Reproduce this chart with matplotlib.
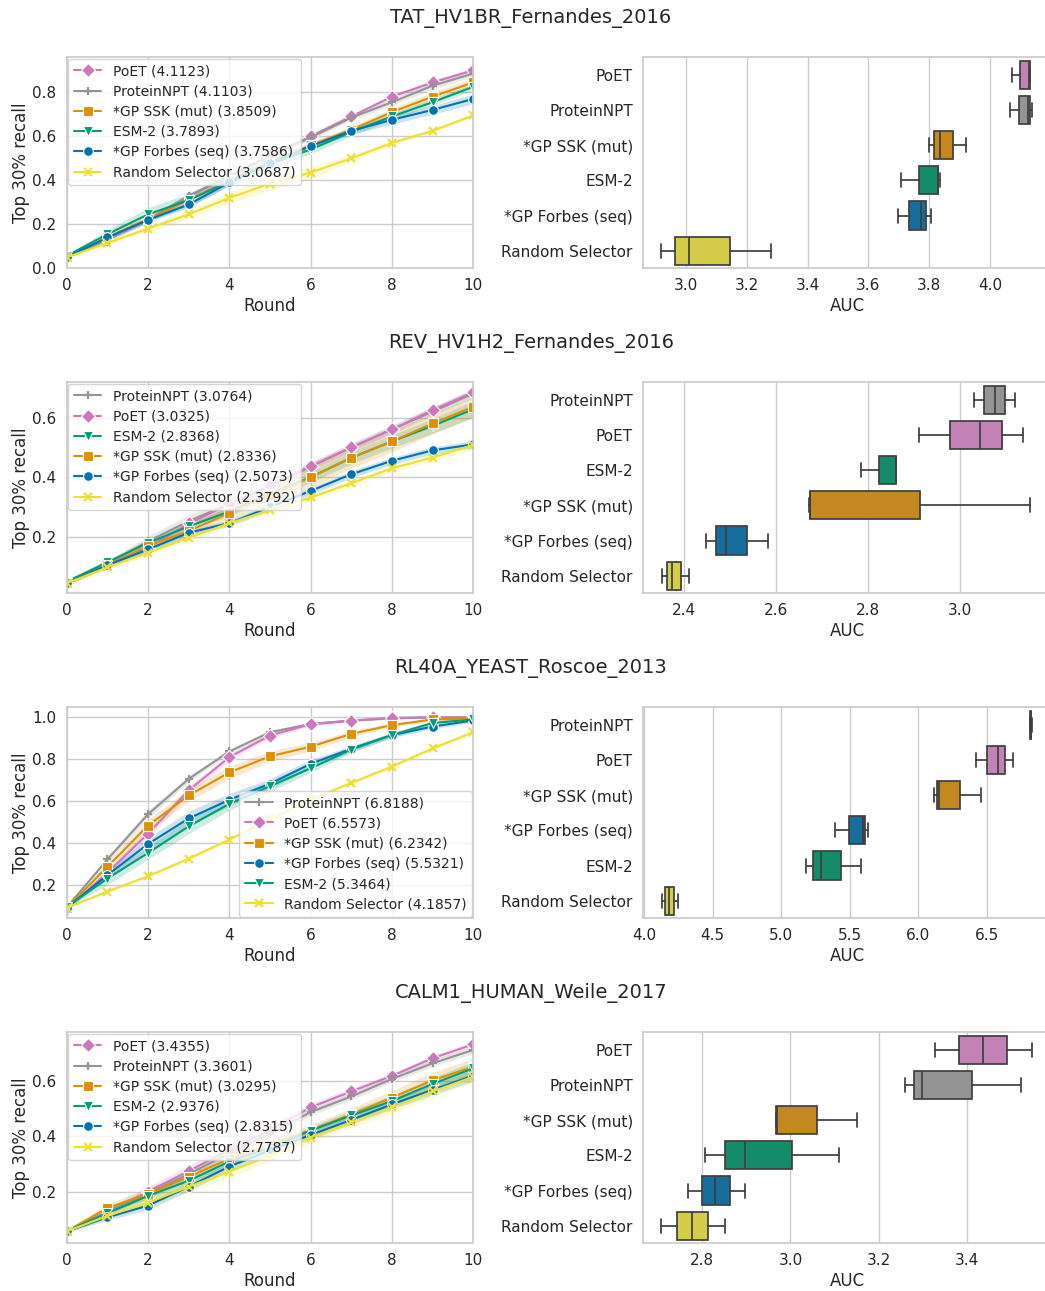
import matplotlib
matplotlib.use("Agg")
import matplotlib.pyplot as plt
import seaborn as sns

ROUNDS = list(range(11))

# ---- TAT_HV1BR_Fernandes_2016 ----
tat_order = ["PoET", "ProteinNPT", "*GP SSK (mut)", "ESM-2", "*GP Forbes (seq)", "Random Selector"]
tat_auc = {"PoET": 4.1123, "ProteinNPT": 4.1103, "*GP SSK (mut)": 3.8509,
           "ESM-2": 3.7893, "*GP Forbes (seq)": 3.7586, "Random Selector": 3.0687}
tat_recall = {
    "PoET": [0.05, 0.13, 0.22, 0.325, 0.42, 0.51, 0.60, 0.69, 0.78, 0.845, 0.90],
    "ProteinNPT": [0.05, 0.13, 0.22, 0.33, 0.42, 0.51, 0.595, 0.685, 0.755, 0.83, 0.885],
    "*GP SSK (mut)": [0.05, 0.14, 0.225, 0.31, 0.40, 0.48, 0.56, 0.63, 0.71, 0.78, 0.845],
    "ESM-2": [0.056, 0.155, 0.245, 0.31, 0.395, 0.475, 0.54, 0.62, 0.69, 0.755, 0.825],
    "*GP Forbes (seq)": [0.05, 0.14, 0.22, 0.29, 0.39, 0.48, 0.555, 0.625, 0.675, 0.72, 0.77],
    "Random Selector": [0.05, 0.115, 0.18, 0.245, 0.32, 0.385, 0.435, 0.50, 0.57, 0.625, 0.695],
}
tat_ci = {
    "PoET": [0.005, 0.01, 0.01, 0.01, 0.01, 0.01, 0.01, 0.01, 0.01, 0.01, 0.012],
    "ProteinNPT": [0.005, 0.01, 0.012, 0.012, 0.012, 0.012, 0.012, 0.012, 0.015, 0.015, 0.015],
    "*GP SSK (mut)": [0.005, 0.01, 0.012, 0.012, 0.015, 0.015, 0.015, 0.015, 0.018, 0.02, 0.02],
    "ESM-2": [0.005, 0.02, 0.03, 0.03, 0.02, 0.02, 0.02, 0.018, 0.015, 0.015, 0.015],
    "*GP Forbes (seq)": [0.005, 0.01, 0.012, 0.012, 0.012, 0.012, 0.012, 0.015, 0.02, 0.02, 0.022],
    "Random Selector": [0.005, 0.01, 0.015, 0.02, 0.025, 0.03, 0.028, 0.015, 0.012, 0.01, 0.01],
}
tat_box = {
    "PoET": [4.074, 4.099, 4.127, 4.131, 4.133],
    "ProteinNPT": [4.066, 4.095, 4.126, 4.132, 4.139],
    "*GP SSK (mut)": [3.798, 3.817, 3.836, 3.877, 3.920],
    "ESM-2": [3.708, 3.767, 3.828, 3.830, 3.834],
    "*GP Forbes (seq)": [3.697, 3.735, 3.774, 3.790, 3.807],
    "Random Selector": [2.917, 2.964, 3.008, 3.145, 3.280],
}

# ---- REV_HV1H2_Fernandes_2016 ----
rev_order = ["ProteinNPT", "PoET", "ESM-2", "*GP SSK (mut)", "*GP Forbes (seq)", "Random Selector"]
rev_auc = {"ProteinNPT": 3.0764, "PoET": 3.0325, "ESM-2": 2.8368,
           "*GP SSK (mut)": 2.8336, "*GP Forbes (seq)": 2.5073, "Random Selector": 2.3792}
rev_recall = {
    "ProteinNPT": [0.045, 0.11, 0.185, 0.253, 0.31, 0.37, 0.435, 0.50, 0.56, 0.62, 0.68],
    "PoET": [0.045, 0.105, 0.165, 0.245, 0.31, 0.37, 0.437, 0.50, 0.56, 0.625, 0.685],
    "ESM-2": [0.05, 0.115, 0.18, 0.235, 0.285, 0.345, 0.40, 0.465, 0.52, 0.572, 0.628],
    "*GP SSK (mut)": [0.045, 0.105, 0.17, 0.22, 0.28, 0.34, 0.40, 0.465, 0.52, 0.58, 0.636],
    "*GP Forbes (seq)": [0.045, 0.105, 0.158, 0.214, 0.246, 0.30, 0.354, 0.41, 0.455, 0.49, 0.51],
    "Random Selector": [0.045, 0.098, 0.147, 0.197, 0.246, 0.29, 0.332, 0.38, 0.43, 0.466, 0.508],
}
rev_ci = {
    "ProteinNPT": [0.005, 0.01, 0.018, 0.02, 0.02, 0.02, 0.015, 0.015, 0.015, 0.015, 0.015],
    "PoET": [0.005, 0.008, 0.012, 0.012, 0.012, 0.012, 0.012, 0.012, 0.012, 0.012, 0.012],
    "ESM-2": [0.005, 0.008, 0.012, 0.012, 0.015, 0.015, 0.018, 0.02, 0.022, 0.025, 0.028],
    "*GP SSK (mut)": [0.005, 0.01, 0.015, 0.02, 0.025, 0.03, 0.035, 0.035, 0.035, 0.035, 0.035],
    "*GP Forbes (seq)": [0.005, 0.008, 0.01, 0.01, 0.01, 0.012, 0.012, 0.012, 0.012, 0.012, 0.012],
    "Random Selector": [0.005, 0.008, 0.01, 0.01, 0.01, 0.01, 0.012, 0.012, 0.012, 0.012, 0.015],
}
rev_box = {
    "ProteinNPT": [3.031, 3.053, 3.076, 3.098, 3.119],
    "PoET": [2.912, 2.978, 3.044, 3.091, 3.138],
    "ESM-2": [2.786, 2.823, 2.861, 2.862, 2.862],
    "*GP SSK (mut)": [2.672, 2.673, 2.674, 2.914, 3.153],
    "*GP Forbes (seq)": [2.447, 2.469, 2.492, 2.538, 2.583],
    "Random Selector": [2.352, 2.363, 2.374, 2.393, 2.412],
}

# ---- RL40A_YEAST_Roscoe_2013 ----
rl40_order = ["ProteinNPT", "PoET", "*GP SSK (mut)", "*GP Forbes (seq)", "ESM-2", "Random Selector"]
rl40_auc = {"ProteinNPT": 6.8188, "PoET": 6.5573, "*GP SSK (mut)": 6.2342,
            "*GP Forbes (seq)": 5.5321, "ESM-2": 5.3464, "Random Selector": 4.1857}
rl40_recall = {
    "ProteinNPT": [0.092, 0.321, 0.537, 0.706, 0.837, 0.929, 0.968, 0.985, 0.995, 1.0, 1.0],
    "PoET": [0.086, 0.257, 0.444, 0.651, 0.81, 0.913, 0.968, 0.984, 0.998, 1.0, 1.0],
    "*GP SSK (mut)": [0.09, 0.286, 0.483, 0.627, 0.737, 0.814, 0.86, 0.921, 0.963, 0.99, 0.995],
    "*GP Forbes (seq)": [0.09, 0.246, 0.395, 0.517, 0.606, 0.683, 0.778, 0.85, 0.915, 0.956, 0.985],
    "ESM-2": [0.095, 0.23, 0.352, 0.479, 0.587, 0.671, 0.757, 0.846, 0.916, 0.973, 0.99],
    "Random Selector": [0.09, 0.168, 0.241, 0.325, 0.416, 0.513, 0.608, 0.687, 0.765, 0.852, 0.929],
}
rl40_ci = {
    "ProteinNPT": [0.005, 0.015, 0.02, 0.015, 0.012, 0.01, 0.008, 0.005, 0.004, 0.002, 0.002],
    "PoET": [0.005, 0.015, 0.02, 0.02, 0.015, 0.012, 0.01, 0.006, 0.004, 0.002, 0.002],
    "*GP SSK (mut)": [0.005, 0.02, 0.03, 0.03, 0.03, 0.025, 0.02, 0.015, 0.01, 0.008, 0.005],
    "*GP Forbes (seq)": [0.005, 0.02, 0.03, 0.035, 0.03, 0.025, 0.02, 0.015, 0.012, 0.01, 0.008],
    "ESM-2": [0.005, 0.03, 0.03, 0.035, 0.03, 0.025, 0.02, 0.015, 0.012, 0.01, 0.006],
    "Random Selector": [0.005, 0.008, 0.01, 0.01, 0.01, 0.01, 0.01, 0.01, 0.01, 0.01, 0.01],
}
rl40_box = {
    "ProteinNPT": [6.812, 6.815, 6.819, 6.822, 6.825],
    "PoET": [6.422, 6.500, 6.582, 6.633, 6.687],
    "*GP SSK (mut)": [6.116, 6.135, 6.148, 6.303, 6.456],
    "*GP Forbes (seq)": [5.394, 5.491, 5.596, 5.609, 5.630],
    "ESM-2": [5.181, 5.234, 5.289, 5.439, 5.585],
    "Random Selector": [4.133, 4.157, 4.186, 4.217, 4.249],
}

# ---- CALM1_HUMAN_Weile_2017 ----
calm1_order = ["PoET", "ProteinNPT", "*GP SSK (mut)", "ESM-2", "*GP Forbes (seq)", "Random Selector"]
calm1_auc = {"PoET": 3.4355, "ProteinNPT": 3.3601, "*GP SSK (mut)": 3.0295,
             "ESM-2": 2.9376, "*GP Forbes (seq)": 2.8315, "Random Selector": 2.7787}
calm1_recall = {
    "PoET": [0.06, 0.13, 0.202, 0.276, 0.352, 0.423, 0.504, 0.561, 0.617, 0.68, 0.73],
    "ProteinNPT": [0.06, 0.13, 0.195, 0.265, 0.34, 0.41, 0.487, 0.543, 0.606, 0.662, 0.71],
    "*GP SSK (mut)": [0.06, 0.143, 0.195, 0.255, 0.32, 0.37, 0.423, 0.479, 0.539, 0.601, 0.65],
    "ESM-2": [0.061, 0.125, 0.187, 0.241, 0.31, 0.36, 0.421, 0.475, 0.527, 0.588, 0.644],
    "*GP Forbes (seq)": [0.06, 0.11, 0.152, 0.22, 0.292, 0.35, 0.405, 0.459, 0.515, 0.567, 0.618],
    "Random Selector": [0.06, 0.115, 0.163, 0.22, 0.274, 0.331, 0.396, 0.45, 0.504, 0.561, 0.614],
}
calm1_ci = {
    "PoET": [0.005, 0.012, 0.018, 0.02, 0.022, 0.02, 0.015, 0.012, 0.01, 0.01, 0.01],
    "ProteinNPT": [0.005, 0.012, 0.015, 0.015, 0.015, 0.015, 0.012, 0.012, 0.012, 0.012, 0.012],
    "*GP SSK (mut)": [0.005, 0.015, 0.02, 0.02, 0.02, 0.02, 0.02, 0.022, 0.025, 0.028, 0.03],
    "ESM-2": [0.005, 0.012, 0.015, 0.015, 0.015, 0.015, 0.015, 0.018, 0.02, 0.022, 0.025],
    "*GP Forbes (seq)": [0.005, 0.01, 0.015, 0.015, 0.015, 0.015, 0.015, 0.015, 0.018, 0.018, 0.02],
    "Random Selector": [0.005, 0.01, 0.015, 0.02, 0.02, 0.02, 0.018, 0.018, 0.02, 0.02, 0.02],
}
calm1_box = {
    "PoET": [3.328, 3.381, 3.435, 3.490, 3.547],
    "ProteinNPT": [3.260, 3.279, 3.297, 3.411, 3.523],
    "*GP SSK (mut)": [2.968, 2.968, 2.970, 3.060, 3.150],
    "ESM-2": [2.807, 2.851, 2.896, 3.003, 3.110],
    "*GP Forbes (seq)": [2.768, 2.800, 2.830, 2.863, 2.896],
    "Random Selector": [2.706, 2.742, 2.778, 2.813, 2.851],
}

DATASETS = [
    ("TAT_HV1BR_Fernandes_2016", tat_order, tat_auc, tat_recall, tat_ci, tat_box),
    ("REV_HV1H2_Fernandes_2016", rev_order, rev_auc, rev_recall, rev_ci, rev_box),
    ("RL40A_YEAST_Roscoe_2013", rl40_order, rl40_auc, rl40_recall, rl40_ci, rl40_box),
    ("CALM1_HUMAN_Weile_2017", calm1_order, calm1_auc, calm1_recall, calm1_ci, calm1_box),
]

# layout / style (not data)
sns.set_theme(style="whitegrid")
plt.rcParams["font.family"] = ["DejaVu Sans"]

pal = sns.color_palette("colorblind")
COLORS = {"PoET": pal[4], "ProteinNPT": pal[7], "*GP SSK (mut)": pal[1],
          "ESM-2": pal[2], "*GP Forbes (seq)": pal[0], "Random Selector": pal[8]}
MARKERS = {"PoET": "D", "ProteinNPT": "+", "*GP SSK (mut)": "s",
           "ESM-2": "v", "*GP Forbes (seq)": "o", "Random Selector": "x"}

LINE_YLIM = [(0.0, 0.959), (0.011, 0.718), (0.04, 1.048), (0.017, 0.773)]
LINE_YTICKS = [[0.0, 0.2, 0.4, 0.6, 0.8], [0.2, 0.4, 0.6], [0.2, 0.4, 0.6, 0.8, 1.0], [0.2, 0.4, 0.6]]
BOX_XLIM = [(2.858, 4.201), (2.311, 3.198), (3.993, 6.967), (2.666, 3.590)]
BOX_XTICKS = [[3.0, 3.2, 3.4, 3.6, 3.8, 4.0], [2.4, 2.6, 2.8, 3.0],
              [4.0, 4.5, 5.0, 5.5, 6.0, 6.5], [2.8, 3.0, 3.2, 3.4]]
LEGEND_LOC = ["upper left", "upper left", "lower right", "upper left"]

W, H = 1045, 1291
fig = plt.figure(figsize=(W / 100, H / 100), dpi=100)


def px_axes(x0, y0, w, h):
    return fig.add_axes([x0 / W, 1 - (y0 + h) / H, w / W, h / H])


row_tops = [57.3, 382.3, 707.3, 1032.3]
row_h = 211

for i, (title, order, auc, recall, ci, box) in enumerate(DATASETS):
    top = row_tops[i]
    fig.text(531 / W, 1 - (top - 39) / H, title, ha="center", va="center",
             fontsize=14, color=".15")

    # line panel
    ax = px_axes(66.7, top, 406.6, row_h)
    for m in order:
        c = COLORS[m]
        lo = [v - e for v, e in zip(recall[m], ci[m])]
        hi = [v + e for v, e in zip(recall[m], ci[m])]
        ax.fill_between(ROUNDS, lo, hi, color=c, alpha=0.2, lw=0)
        if MARKERS[m] in ("+", "x"):
            ax.plot(ROUNDS, recall[m], color=c, lw=1.5, marker=MARKERS[m],
                    ms=6, mew=1.6, label=f"{m} ({auc[m]:.4f})")
        else:
            ax.plot(ROUNDS, recall[m], color=c, lw=1.5, marker=MARKERS[m],
                    ms=7, mec="white", mew=0.8, label=f"{m} ({auc[m]:.4f})")
    ax.set_xlim(0, 10)
    ax.set_ylim(*LINE_YLIM[i])
    ax.set_xticks([0, 2, 4, 6, 8, 10])
    ax.set_yticks(LINE_YTICKS[i])
    ax.tick_params(labelsize=11, pad=1.3)
    ax.set_xlabel("Round", fontsize=12, labelpad=2.5)
    ax.set_ylabel("Top 30% recall", fontsize=12, labelpad=2)
    ax.legend(loc=LEGEND_LOC[i], fontsize=10, borderaxespad=0.1, labelspacing=0.45)

    # box panel
    bx = px_axes(643, top, 408, row_h)
    stats = [dict(whislo=box[m][0], q1=box[m][1], med=box[m][2], q3=box[m][3],
                  whishi=box[m][4], label=m) for m in order]
    art = bx.bxp(stats, positions=list(range(len(order))), orientation="horizontal",
                 widths=0.8, capwidths=0.4, patch_artist=True, showfliers=False,
                 boxprops=dict(edgecolor="#3f3f3f", linewidth=1.25),
                 medianprops=dict(color="#3f3f3f", linewidth=1.25),
                 whiskerprops=dict(color="#3f3f3f", linewidth=1.25),
                 capprops=dict(color="#3f3f3f", linewidth=1.25))
    for patch, m in zip(art["boxes"], order):
        patch.set_facecolor(sns.desaturate(COLORS[m], 0.75))
    bx.set_yticks(list(range(len(order))))
    bx.set_yticklabels(order)
    bx.set_ylim(len(order) - 0.5, -0.5)
    bx.set_xlim(*BOX_XLIM[i])
    bx.set_xticks(BOX_XTICKS[i])
    bx.grid(False, axis="y")
    bx.grid(True, axis="x")
    bx.tick_params(labelsize=11, pad=1.3)
    bx.set_xlabel("AUC", fontsize=12, labelpad=2.5)

fig.savefig("out.png", dpi=100)
